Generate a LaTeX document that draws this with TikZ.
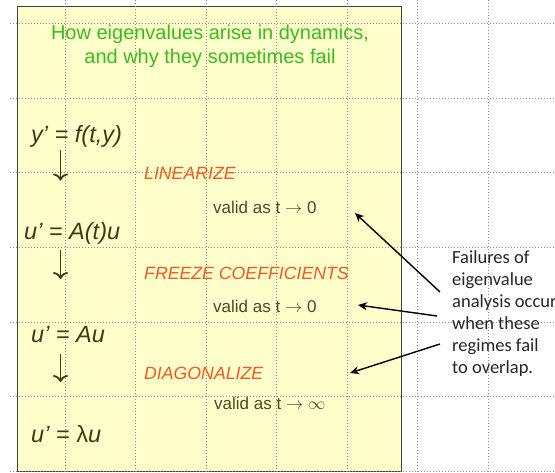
\documentclass[tikz,border=0pt]{standalone}
\usepackage{fontspec}
\setmainfont{Liberation Sans}
\newfontfamily\calib{Carlito}
\usetikzlibrary{arrows.meta}
\definecolor{boxyellow}{HTML}{FFFFCC}
\definecolor{titlegreen}{HTML}{3CBB1C}
\definecolor{steporange}{HTML}{F05A1E}
\definecolor{eqolive}{HTML}{3C3C14}
\definecolor{validolive}{HTML}{4A4A2A}
\definecolor{gridgray}{HTML}{8A8A8A}
\begin{document}
\begin{tikzpicture}[x=1pt,y=-1pt,
  gridline/.style={gridgray, line width=0.9pt, dash pattern=on 0.9pt off 2.1pt},
  eqtext/.style={anchor=base west, inner sep=0pt, text=eqolive, font=\fontsize{23.5}{28}\selectfont\itshape},
  downarrow/.style={draw=eqolive, line width=1.8pt, -{Computer Modern Rightarrow[length=7pt,width=15pt]}},
  steplabel/.style={anchor=base west, inner sep=0pt, text=steporange, font=\fontsize{17.7}{21}\selectfont\itshape},
  validtext/.style={anchor=base west, inner sep=0pt, text=validolive, font=\fontsize{17}{20}\selectfont},
  pointer/.style={draw=black, line width=1.4pt, -{Stealth[length=9pt,width=8pt]}}
]
\useasboundingbox (0,0) rectangle (555,472);
% slide panel
\path[fill=boxyellow, draw=black!75, line width=1pt] (17,6) rectangle (401,471);
% grid
\foreach \gx in {65,135.5,206,276.5,347,417.5,488} \draw[gridline] (\gx,0) -- (\gx,472);
\foreach \gy in {23,98,172.5,247,322,396.5,471} \draw[gridline] (10,\gy) -- (555,\gy);
% title
\node[anchor=base, inner sep=0pt, text=titlegreen, align=center,
  font=\fontsize{20}{24}\selectfont] (title) at (210,63)
  {How eigenvalues arise in dynamics,\\and why they sometimes fail};
% equations
\node[eqtext] (eq1) at (31,142) {y’ = f(t,y)};
\node[eqtext] (eq2) at (24,239) {u’ = A(t)u};
\node[eqtext] (eq3) at (31,342) {u’ = Au};
\node[eqtext] (eq4) at (31,442) {u’ = {\upshape λ}u};
\coordinate (a1s) at (60.5,150); \coordinate (a1e) at (60.5,180.5);
\coordinate (a2s) at (60.5,250); \coordinate (a2e) at (60.5,279);
\coordinate (a3s) at (60.5,354); \coordinate (a3e) at (60.5,382);
\draw[downarrow] (a1s) -- (a1e);
\draw[downarrow] (a2s) -- (a2e);
\draw[downarrow] (a3s) -- (a3e);
% steps
\node[steplabel] (lin) at (144,179) {LINEARIZE};
\node[steplabel] (frz) at (144,279) {FREEZE COEFFICIENTS};
\node[steplabel] (diag) at (144,379) {DIAGONALIZE};
\node[validtext] (v1) at (213,213) {valid as t $\rightarrow$ 0};
\node[validtext] (v2) at (213,312) {valid as t $\rightarrow$ 0};
\node[validtext] (v3) at (214,409) {valid as t $\rightarrow$ $\infty$};
% callout
\node[anchor=north west, inner sep=0pt, align=left, text=black!85,
  font=\calib\fontsize{18.5}{22}\selectfont] (fail) at (452,250)
  {Failures of\\eigenvalue\\analysis occur\\when these\\regimes fail\\to overlap.};
\coordinate (s1) at (440,292);
\coordinate (s2) at (437,316);
\coordinate (s3) at (440,344);
\coordinate (e1) at (355,213);
\coordinate (e2) at (358,305);
\coordinate (e3) at (350,373);
\draw[pointer] (s1) -- (e1);
\draw[pointer] (s2) -- (e2);
\draw[pointer] (s3) -- (e3);
\end{tikzpicture}
\end{document}
